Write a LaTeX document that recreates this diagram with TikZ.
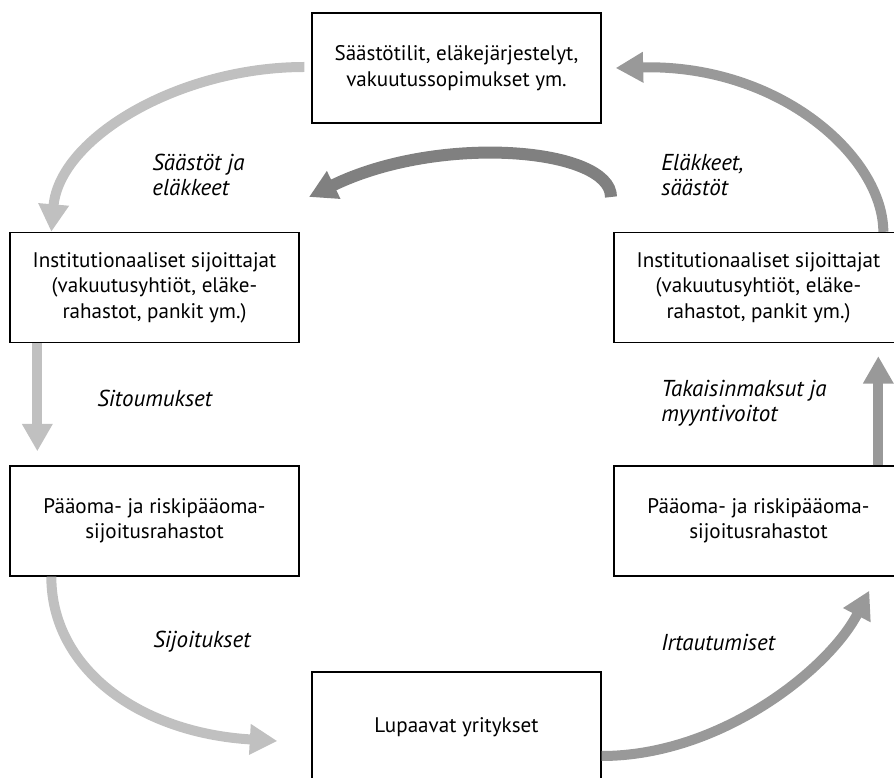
\documentclass[tikz,border=0pt]{standalone}
\usepackage{fontspec}
\setmainfont{PT Sans}
\usetikzlibrary{arrows.meta,calc}
\definecolor{lightflow}{RGB}{192,192,192}
\definecolor{midflow}{RGB}{153,153,153}
\definecolor{darkflow}{RGB}{128,128,128}

\begin{document}
\begin{tikzpicture}[x=0.02cm,y=0.02cm,
		box/.style={draw, line width=0.8pt, minimum width=5.78cm, minimum height=2.2cm,
			align=center, font=\fontsize{12}{14.5}\selectfont},
		lbl/.style={anchor=west, inner sep=0pt, align=left,
			font=\itshape\fontsize{13.1}{14.5}\selectfont},
		flow/.style={line width=0.2cm, -{Triangle[length=0.55cm,width=0.58cm]}}]
		
		\useasboundingbox (0,0) rectangle (894,778);
		
		% Boxes
		\node[box] (top) at (456.5,710) {Säästötilit, eläkejärjestelyt,\\vakuutussopimukset ym.};
		\node[box] (inst1) at (154.5,490.5) {Institutionaaliset sijoittajat\\(vakuutusyhtiöt, eläke-\\rahastot, pankit ym.)};
		\node[box] (inst2) at (758.5,490.5) {Institutionaaliset sijoittajat\\(vakuutusyhtiöt, eläke-\\rahastot, pankit ym.)};
		\node[box] (fund1) at (154.5,257) {Pääoma- ja riskipääoma-\\sijoitusrahastot};
		\node[box] (fund2) at (758.5,257) {Pääoma- ja riskipääoma-\\sijoitusrahastot};
		\node[box] (firm) at (456.5,51) {Lupaavat yritykset};
		
		% Left side flows
		\draw[flow, lightflow] ($(top.west)+(-7,1)$) .. controls +(-125,0) and +(8,94) .. ($(inst1.north west)+(42,0)$);
		\draw[flow, lightflow] ($(inst1.south west)+(28,0)$) -- ($(fund1.north west)+(28,14)$);
		\draw[flow, lightflow] ($(fund1.south west)+(42,0)$) .. controls +(0,-92) and +(-138,8) .. ($(firm.west)+(-34,-14)$);
		
		% Right side flows
		\draw[flow, midflow] ($(firm.east)+(0,-29)$) .. controls +(119,0) and +(-40,-78) .. ($(fund2.south west)+(256,-14)$);
		\draw[flow, midflow] ($(fund2.north west)+(265,0)$) -- ($(inst2.south west)+(265,-13)$);
		\draw[flow, midflow] ($(inst2.north west)+(270,0)$) .. controls +(0,74) and +(165,4) .. ($(top.east)+(14,0)$);
		
		% Back flow
		\coordinate (backR) at (611,581);
		\coordinate (backL) at (309,581);
		\draw[flow, darkflow, line width=0.24cm] (backR) .. controls +(0,49) and +(131,64) .. (backL);
		
		% Labels
		\node[lbl] (l1) at (152,603) {Säästöt ja\\eläkkeet};
		\node[lbl] (l2) at (661,603) {Eläkkeet,\\säästöt};
		\node[lbl] (l3) at (97,380) {Sitoumukset};
		\node[lbl] (l4) at (661,375) {Takaisinmaksut ja\\myyntivoitot};
		\node[lbl] (l5) at (153,136) {Sijoitukset};
		\node[lbl] (l6) at (661,136) {Irtautumiset};
		
	\end{tikzpicture}
\end{document}
